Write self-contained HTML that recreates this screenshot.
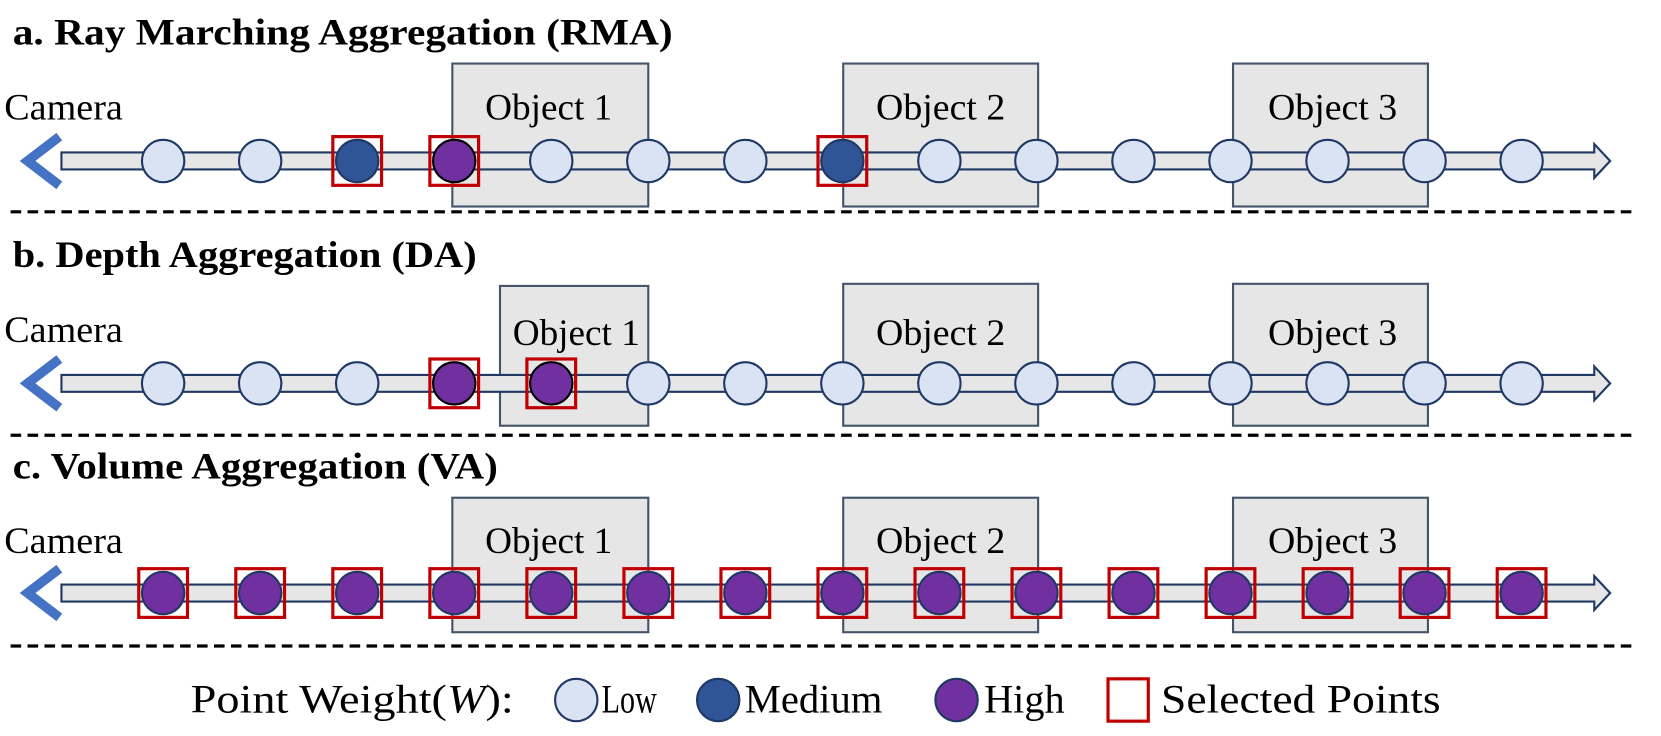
<!DOCTYPE html>
<html><head><meta charset="utf-8"><style>
html,body{margin:0;padding:0;background:#fff;width:1661px;height:736px;overflow:hidden}
svg{display:block}
text{font-family:"Liberation Serif",serif;fill:#000}
</style></head><body>
<svg id="s" width="1661" height="736" viewBox="0 0 1568 695" preserveAspectRatio="none" xmlns="http://www.w3.org/2000/svg">
<g id="bg"></g>
<text x="12" y="42" font-size="35" font-weight="bold" textLength="623" lengthAdjust="spacingAndGlyphs">a. Ray Marching Aggregation (RMA)</text>
<text x="12" y="252" font-size="35" font-weight="bold" textLength="438" lengthAdjust="spacingAndGlyphs">b. Depth Aggregation (DA)</text>
<text x="12" y="452" font-size="35" font-weight="bold" textLength="458" lengthAdjust="spacingAndGlyphs">c. Volume Aggregation (VA)</text>
<text x="4" y="113" font-size="35" textLength="112" lengthAdjust="spacingAndGlyphs">Camera</text>
<text x="4" y="323" font-size="35" textLength="112" lengthAdjust="spacingAndGlyphs">Camera</text>
<text x="4" y="522" font-size="35" textLength="112" lengthAdjust="spacingAndGlyphs">Camera</text>
<g id="fg"></g>
<text x="458" y="113" font-size="35" textLength="120" lengthAdjust="spacingAndGlyphs">Object 1</text>
<text x="827" y="113" font-size="35" textLength="122" lengthAdjust="spacingAndGlyphs">Object 2</text>
<text x="1197" y="113" font-size="35" textLength="122" lengthAdjust="spacingAndGlyphs">Object 3</text>
<text x="484" y="326" font-size="35" textLength="120" lengthAdjust="spacingAndGlyphs">Object 1</text>
<text x="827" y="326" font-size="35" textLength="122" lengthAdjust="spacingAndGlyphs">Object 2</text>
<text x="1197" y="326" font-size="35" textLength="122" lengthAdjust="spacingAndGlyphs">Object 3</text>
<text x="458" y="522" font-size="35" textLength="120" lengthAdjust="spacingAndGlyphs">Object 1</text>
<text x="827" y="522" font-size="35" textLength="122" lengthAdjust="spacingAndGlyphs">Object 2</text>
<text x="1197" y="522" font-size="35" textLength="122" lengthAdjust="spacingAndGlyphs">Object 3</text>
<text x="180" y="673" font-size="38" textLength="305" lengthAdjust="spacingAndGlyphs">Point Weight(<tspan font-style="italic">W</tspan>):</text>
<circle cx="544" cy="661" r="20" fill="#dae3f3" stroke="#1f3864" stroke-width="2"/>
<text x="568" y="673" font-size="38" textLength="52" lengthAdjust="spacingAndGlyphs">Low</text>
<circle cx="678" cy="661" r="20" fill="#2f5597" stroke="#1f3864" stroke-width="2"/>
<text x="703" y="673" font-size="38" textLength="130" lengthAdjust="spacingAndGlyphs">Medium</text>
<circle cx="903" cy="661" r="20" fill="#7030a0" stroke="#1f3864" stroke-width="2"/>
<text x="929" y="673" font-size="38" textLength="76" lengthAdjust="spacingAndGlyphs">High</text>
<rect x="1046" y="641" width="38" height="40" fill="none" stroke="#c00000" stroke-width="3"/>
<text x="1096" y="673" font-size="38" textLength="264" lengthAdjust="spacingAndGlyphs">Selected Points</text>
</svg>
<script>
var NS="http://www.w3.org/2000/svg",bg=document.getElementById('bg'),fg=document.getElementById('fg');
function el(p,t,a){var e=document.createElementNS(NS,t);for(var k in a)e.setAttribute(k,a[k]);p.appendChild(e);return e;}
var xs=[];for(var i=0;i<15;i++)xs.push(154+i*91.6);
var rows=[
 {cy:152,boxes:[[427,60,185,135],[796,60,184,135],[1164,60,184,135]],c:{2:'M',3:'H',7:'M'},sel:[2,3,7]},
 {cy:362,boxes:[[472,270,140,132],[796,268,184,134],[1164,268,184,134]],c:{3:'H',4:'H'},sel:[3,4]},
 {cy:560,boxes:[[427,470,185,127],[796,470,184,127],[1164,470,184,127]],c:'all',sel:'all'}];
var col={L:'#dae3f3',M:'#2f5597',H:'#7030a0'};
[200,411,610].forEach(function(y){el(bg,'line',{x1:10,y1:y,x2:1545,y2:y,stroke:'#000','stroke-width':3,'stroke-dasharray':'10 6'});});
rows.forEach(function(r){
 r.boxes.forEach(function(b){el(bg,'rect',{x:b[0],y:b[1],width:b[2],height:b[3],fill:'#e7e6e6',stroke:'#44546a','stroke-width':2});});
 var y=r.cy;
 el(fg,'path',{d:'M58 '+(y-8)+' H1505 V'+(y-16)+' L1520 '+y+' L1505 '+(y+16)+' V'+(y+8)+' H58 Z',fill:'#e7e6e6',stroke:'#1f3864','stroke-width':2});
 el(fg,'path',{d:'M56 '+(y-23)+' L26 '+y+' L56 '+(y+23),fill:'none',stroke:'#4472c4','stroke-width':9});
 xs.forEach(function(x,i){
  var c=r.c==='all'?'H':(r.c[i]||'L');
  el(fg,'circle',{cx:x,cy:y,r:20,fill:col[c],stroke:c==='H'&&r.c!=='all'?'#000':'#1f3864','stroke-width':2});
  if(r.sel==='all'||r.sel.indexOf(i)>=0)el(fg,'rect',{x:x-23,y:y-23,width:46,height:46,fill:'none',stroke:'#c00000','stroke-width':3});
 });
});
</script>
</body></html>
